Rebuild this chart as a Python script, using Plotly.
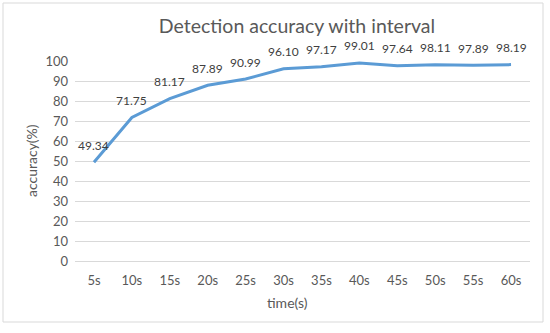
import plotly.graph_objects as go

categories = ["5s", "10s", "15s", "20s", "25s", "30s", "35s", "40s", "45s", "50s", "55s", "60s"]
accuracy = [49.34, 71.75, 81.17, 87.89, 90.99, 96.10, 97.17, 99.01, 97.64, 98.11, 97.89, 98.19]
y_ticks = [0, 10, 20, 30, 40, 50, 60, 70, 80, 90, 100]

FONT = "Lato"
GRAY = "#595959"

fig = go.Figure()
fig.add_trace(go.Scatter(
    x=categories, y=accuracy, mode="lines",
    line=dict(color="#5B9BD5", width=3),
    hoverinfo="x+y", showlegend=False,
))

annotations = []
for c, v in zip(categories, accuracy):
    annotations.append(dict(
        x=c, y=v, xref="x", yref="y", text=f"{v:.2f}", showarrow=False,
        yshift=17, borderpad=0, font=dict(family=FONT, size=12, color="#404040"),
    ))

# axis titles placed in paper coords (plot area: x 75..530 px, y 61..261 px)
annotations.append(dict(
    x=(287 - 75) / 455, y=(261 - 302) / 200, xref="paper", yref="paper",
    text="time(s)", showarrow=False, xanchor="center", yanchor="middle",
    font=dict(family=FONT, size=14, color=GRAY),
))
annotations.append(dict(
    x=(31 - 75) / 455, y=(261 - 161) / 200, xref="paper", yref="paper",
    text="accuracy(%)", showarrow=False, xanchor="center", yanchor="middle",
    textangle=-90, font=dict(family=FONT, size=14, color=GRAY),
))

fig.update_layout(
    width=550, height=333,
    margin=dict(l=75, r=20, t=61, b=72, autoexpand=False),
    paper_bgcolor="white", plot_bgcolor="white",
    title=dict(text="Detection accuracy with interval", x=297 / 550, xanchor="center",
               y=1 - 26 / 333, yanchor="middle",
               font=dict(family=FONT, size=19.5, color=GRAY)),
    xaxis=dict(
        type="category", categoryorder="array", categoryarray=categories,
        showgrid=False, showline=False, zeroline=False, ticks="",
        tickfont=dict(family=FONT, size=13, color=GRAY),
        ticklabelstandoff=10, automargin=False,
        range=[-0.5, len(categories) - 0.5],
    ),
    yaxis=dict(
        range=[0, 100], tickvals=y_ticks, showgrid=True, gridcolor="#d9d9d9", gridwidth=1,
        zeroline=True, zerolinecolor="#d9d9d9", zerolinewidth=1, showline=False, ticks="",
        tickfont=dict(family=FONT, size=13, color=GRAY),
        ticklabelstandoff=6, automargin=False,
    ),
    annotations=annotations,
    shapes=[dict(type="rect", xref="paper", yref="paper",
                 x0=(3 - 75) / 455, x1=(543 - 75) / 455,
                 y0=(261 - 322) / 200, y1=(261 - 3) / 200,
                 line=dict(color="#d9d9d9", width=1), layer="below")],
)

fig.write_html("out.html", config={"displayModeBar": False},
               post_script="document.body.style.margin='0';")
